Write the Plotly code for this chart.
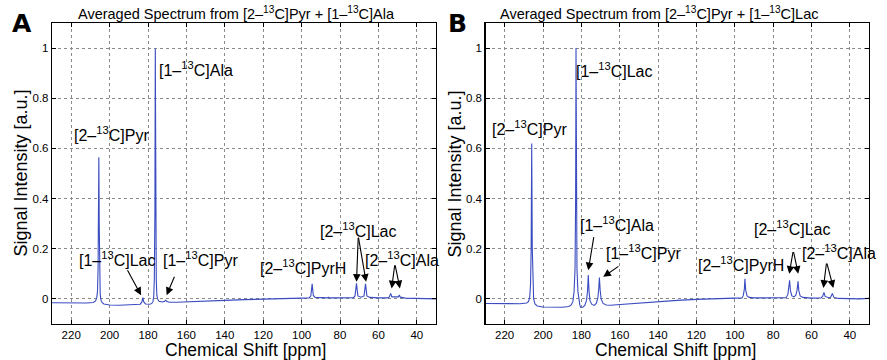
import plotly.graph_objects as go

# ---------------- data ----------------
ppm_A = [230, 220, 212, 208.5, 207.3, 206.7, 206.3, 206.0, 205.8, 205.6, 205.4, 205.2, 204.9, 204.5, 203.8, 203, 200, 195, 190, 186,
         184, 183.2, 182.7, 182.2, 181.3, 179, 178, 177.4, 177.0, 176.7, 176.4, 176.2, 176.0, 175.7, 175.4, 175.0, 174.3, 172.5,
         171.3, 170.8, 170.3, 169, 165, 160, 150, 140, 130, 120, 110, 100, 96, 95.2, 94.5, 93.9, 93.0, 90, 86.5, 86.1, 85.7, 80,
         73, 72.2, 71.4, 70.7, 69, 67.5, 66.7, 66.0, 64.5, 60, 55, 54.3, 53.6, 53.0, 50, 49.6, 49.1, 48.6, 46, 40, 35, 30]
int_A = [-0.015, -0.016, -0.016, -0.014, -0.008, 0.005, 0.03, 0.12, 0.3, 0.565, 0.3, 0.1, 0.02, -0.005, -0.015, -0.02, -0.024, -0.025, -0.024, -0.023,
         -0.021, -0.012, 0.005, -0.012, -0.02, -0.021, -0.018, -0.01, 0.01, 0.08, 0.35, 0.998, 0.35, 0.08, 0.015, 0.0, -0.009, -0.012,
         -0.009, -0.005, -0.009, -0.013, -0.013, -0.012, -0.009, -0.006, -0.003, 0.0, 0.002, 0.003, 0.004, 0.012, 0.060, 0.014, 0.006, 0.004, 0.004, 0.007, 0.004, 0.004,
         0.005, 0.012, 0.062, 0.012, 0.007, 0.012, 0.060, 0.012, 0.006, 0.004, 0.004, 0.008, 0.022, 0.008, 0.006, 0.008, 0.016, 0.007, 0.003, 0.002, 0.001, 0.0]

ppm_B = [230, 220, 212, 208.5, 207.5, 206.9, 206.5, 206.2, 205.9, 205.6, 205.3, 204.9, 204.2, 203, 200, 195, 190, 186.5, 185.3,
         184.4, 183.8, 183.3, 183.0, 182.8, 182.6, 182.3, 181.8, 181.3, 180.8, 180.3, 179.3, 178.2, 177.3, 176.8, 176.4, 176.0,
         175.5, 174.5, 173.3, 172.2, 171.4, 171.0, 170.6, 170.2, 169.7, 168.7, 167, 165, 160, 150, 140, 130, 120, 110, 100, 96.2,
         95.5, 95.0, 94.7, 94.3, 93.6, 92.5, 90, 80, 73.2, 72.3, 71.8, 71.4, 71.0, 70.3, 69.2, 68.2, 67.5, 67.0, 66.6, 65.9, 64.5,
         60, 55, 54.2, 53.5, 52.9, 51, 50.0, 49.1, 48.4, 46, 40, 35, 30]
int_B = [-0.018, -0.019, -0.019, -0.016, -0.010, 0.01, 0.06, 0.2, 0.62, 0.2, 0.06, 0.0, -0.02, -0.028, -0.032, -0.033, -0.033, -0.030, -0.024,
         -0.01, 0.03, 0.12, 0.4, 1.0, 0.4, 0.12, 0.03, -0.005, -0.025, -0.034, -0.033, -0.026, -0.005, 0.03, 0.095, 0.03,
         -0.008, -0.022, -0.026, -0.018, 0.005, 0.035, 0.085, 0.035, 0.0, -0.018, -0.024, -0.025, -0.022, -0.016, -0.011, -0.006, -0.002, 0.001, 0.002, 0.004,
         0.015, 0.04, 0.08, 0.035, 0.012, 0.006, 0.004, 0.003, 0.005, 0.018, 0.04, 0.074, 0.035, 0.013, 0.008, 0.014, 0.035, 0.070, 0.033, 0.012, 0.006,
         0.003, 0.004, 0.01, 0.026, 0.01, 0.005, 0.007, 0.022, 0.007, 0.002, 0.0, 0.0, 0.002]

x_ticks = [220, 200, 180, 160, 140, 120, 100, 80, 60, 40]
y_ticks = [0, 0.2, 0.4, 0.6, 0.8, 1.0]
y_tick_text = ["0", "0.2", "0.4", "0.6", "0.8", "1"]

titles = ["Averaged Spectrum from [2–<sup>13</sup>C]Pyr + [1–<sup>13</sup>C]Ala",
          "Averaged Spectrum from [2–<sup>13</sup>C]Pyr + [1–<sup>13</sup>C]Lac"]
panel_letters = ["A", "B"]

# labels: (text, ppm, intensity)
labels_A = [("[2–<sup>13</sup>C]Pyr", 198.8, 0.657), ("[1–<sup>13</sup>C]Ala", 155.0, 0.915),
            ("[1–<sup>13</sup>C]Lac", 196.0, 0.16), ("[1–<sup>13</sup>C]Pyr", 152.7, 0.16),
            ("[2–<sup>13</sup>C]PyrH", 99.2, 0.127), ("[2–<sup>13</sup>C]Lac", 70.6, 0.276),
            ("[2–<sup>13</sup>C]Ala", 47.7, 0.16)]
# arrows: (head ppm, head int, tail ppm, tail int)
arrows_A = [(183.6, 0.015, 191.1, 0.12), (170.3, 0.015, 165.9, 0.094),
            (71.4, 0.068, 70.5, 0.25), (66.4, 0.068, 70.5, 0.25),
            (53.1, 0.042, 51.4, 0.14), (48.8, 0.042, 51.4, 0.14)]

labels_B = [("[2–<sup>13</sup>C]Pyr", 207.2, 0.68), ("[1–<sup>13</sup>C]Lac", 162.7, 0.914),
            ("[1–<sup>13</sup>C]Ala", 161.2, 0.298), ("[1–<sup>13</sup>C]Pyr", 147.4, 0.187),
            ("[2–<sup>13</sup>C]PyrH", 96.6, 0.14), ("[2–<sup>13</sup>C]Lac", 69.8, 0.281),
            ("[2–<sup>13</sup>C]Ala", 45.4, 0.187)]
arrows_B = [(176.4, 0.114, 173.4, 0.252), (168.6, 0.088, 159.9, 0.134),
            (71.6, 0.10, 69.5, 0.193), (66.9, 0.10, 69.5, 0.193),
            (53.8, 0.044, 52.1, 0.147), (48.6, 0.044, 52.1, 0.147)]

# ---------------- figure ----------------
W, H = 887, 360
FONT = "Liberation Sans, Arial, Helvetica, sans-serif"
LINE = "#3a4cc0"

fig = go.Figure()
fig.add_trace(go.Scatter(x=ppm_A, y=int_A, mode="lines", line=dict(color=LINE, width=1.1),
                         xaxis="x", yaxis="y", showlegend=False, hoverinfo="skip"))
fig.add_trace(go.Scatter(x=ppm_B, y=int_B, mode="lines", line=dict(color=LINE, width=1.1),
                         xaxis="x2", yaxis="y2", showlegend=False, hoverinfo="skip"))

dom_A = [52 / W, 436 / W]
dom_B = [485.5 / W, 869 / W]
dom_y = [36 / H, 337 / H]

axis_common = dict(showline=True, linecolor="black", linewidth=1.2, mirror="ticks",
                   ticks="inside", ticklen=4, tickcolor="black", showgrid=True,
                   gridcolor="#8a8a8a", griddash="dot", gridwidth=1, zeroline=False,
                   automargin=False,
                   tickfont=dict(family=FONT, size=11.5, color="black"))

fig.update_layout(
    width=W, height=H, margin=dict(l=0, r=0, t=0, b=0, autoexpand=False),
    paper_bgcolor="white", plot_bgcolor="white",
    xaxis=dict(domain=dom_A, range=[230, 30], tickvals=x_ticks, anchor="y", **axis_common),
    yaxis=dict(domain=dom_y, range=[-0.1, 1.1], tickvals=y_ticks, ticktext=y_tick_text, anchor="x", **axis_common),
    xaxis2=dict(domain=dom_B, range=[230, 30], tickvals=x_ticks, anchor="y2", **axis_common),
    yaxis2=dict(domain=dom_y, range=[-0.1, 1.1], tickvals=y_ticks, ticktext=y_tick_text, anchor="x2", **axis_common),
)

ann = []
for i, (xr, yr, dom, labels, arrows) in enumerate([("x", "y", dom_A, labels_A, arrows_A),
                                                   ("x2", "y2", dom_B, labels_B, arrows_B)]):
    for txt, px, py in labels:
        ann.append(dict(text=txt, x=px, y=py, xref=xr, yref=yr, showarrow=False,
                        font=dict(family=FONT, size=16, color="black"), xanchor="center", yanchor="middle"))
    for hx, hy, tx, ty in arrows:
        ann.append(dict(text="", x=hx, y=hy, ax=tx, ay=ty, xref=xr, yref=yr, axref=xr, ayref=yr,
                        showarrow=True, arrowhead=2, arrowsize=1.4, arrowwidth=1.1, arrowcolor="black",
                        standoff=0, startstandoff=0))

# titles
ann.append(dict(text=titles[0], x=236 / W, y=(H - 13) / H, xref="paper", yref="paper", showarrow=False,
                font=dict(family=FONT, size=14.5, color="black"), xanchor="center", yanchor="middle"))
ann.append(dict(text=titles[1], x=659 / W, y=(H - 13) / H, xref="paper", yref="paper", showarrow=False,
                font=dict(family=FONT, size=14.5, color="black"), xanchor="center", yanchor="middle"))
# panel letters
ann.append(dict(text="<b>A</b>", x=21.7 / W, y=(H - 24) / H, xref="paper", yref="paper", showarrow=False,
                font=dict(family="DejaVu Sans", size=25, color="black"), xanchor="center", yanchor="middle"))
ann.append(dict(text="<b>B</b>", x=457 / W, y=(H - 24) / H, xref="paper", yref="paper", showarrow=False,
                font=dict(family="DejaVu Sans", size=25, color="black"), xanchor="center", yanchor="middle"))
# axis titles
for xc in [21 / W, 455 / W]:
    ann.append(dict(text="Signal Intensity [a.u.]", x=xc, y=(dom_y[0] + dom_y[1]) / 2, xref="paper", yref="paper",
                    showarrow=False, textangle=-90, font=dict(family=FONT, size=18, color="black"),
                    xanchor="center", yanchor="middle"))
for xc in [245 / W, 675.5 / W]:
    ann.append(dict(text="Chemical Shift [ppm]", x=xc, y=(H - 350) / H, xref="paper", yref="paper",
                    showarrow=False, font=dict(family=FONT, size=17.5, color="black"),
                    xanchor="center", yanchor="middle"))

fig.update_layout(annotations=ann)
fig.write_html("out.html", config={"displayModeBar": False, "staticPlot": True},
               post_script="document.body.style.margin='0px';document.body.style.overflow='hidden';")
